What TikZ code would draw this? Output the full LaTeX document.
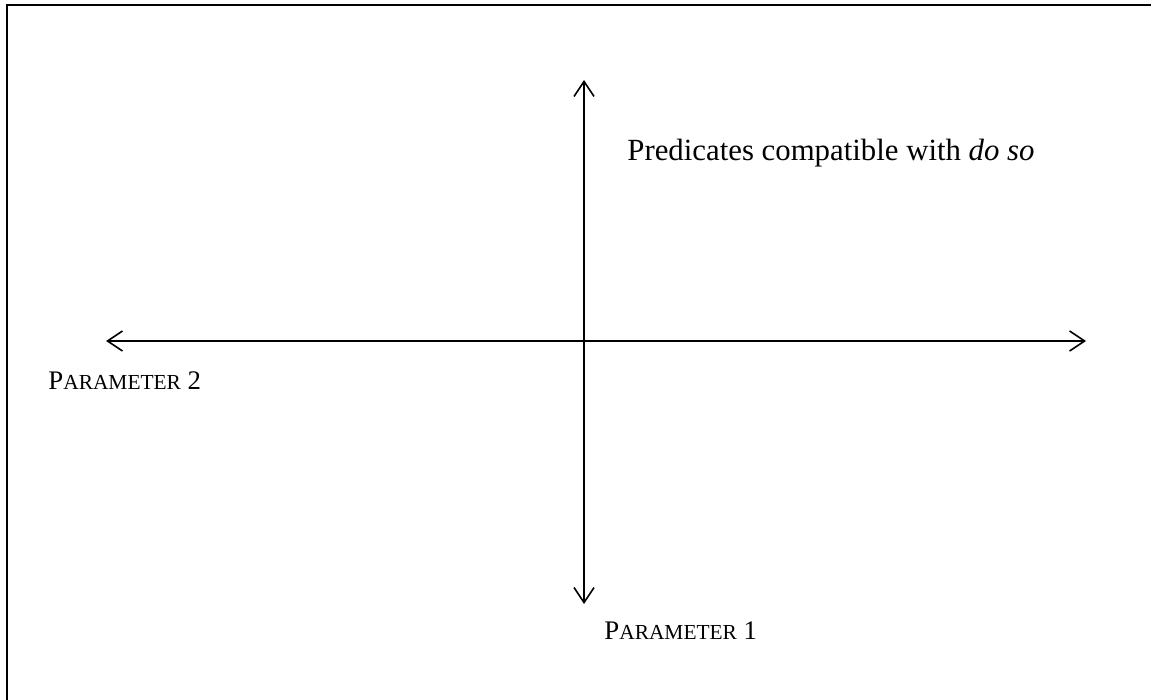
\documentclass[tikz,border=0pt]{standalone}
\usepackage{fontspec}
\setmainfont{Liberation Serif}
\usetikzlibrary{arrows.meta}

\newcommand{\smallcapsword}[2]{{\fontsize{13.4}{16}\selectfont #1}{\fontsize{10.7}{13}\selectfont #2}}

\begin{document}
\begin{tikzpicture}[
  x=0.5pt, y=-0.5pt,
  frame/.style={line width=1pt},
  axis/.style={{Straight Barb[length=7.5pt,width=10pt]}-{Straight Barb[length=7.5pt,width=10pt]}, line width=0.8pt},
  label/.style={anchor=west, inner sep=0pt}
]
\useasboundingbox (0,0) rectangle (1151,700);
% frame, top and left side only
\draw[frame] (7,700) -- (7,5) -- (1151,5);

\coordinate (west) at (106,341);
\coordinate (east) at (1086,341);
\coordinate (north) at (584,80);
\coordinate (south) at (584,604);

\draw[axis] (west) -- (east);
\draw[axis] (north) -- (south);

\node[label] (doso) at (627,153) {\fontsize{15.4}{19}\selectfont Predicates compatible with \textit{do so}};
\node[label] (param2) at (48,381) {\smallcapsword{P}{ARAMETER}{\fontsize{13.4}{16}\selectfont\ 2}};
\node[label] (param1) at (604,631) {\smallcapsword{P}{ARAMETER}{\fontsize{13.4}{16}\selectfont\ 1}};
\end{tikzpicture}
\end{document}
